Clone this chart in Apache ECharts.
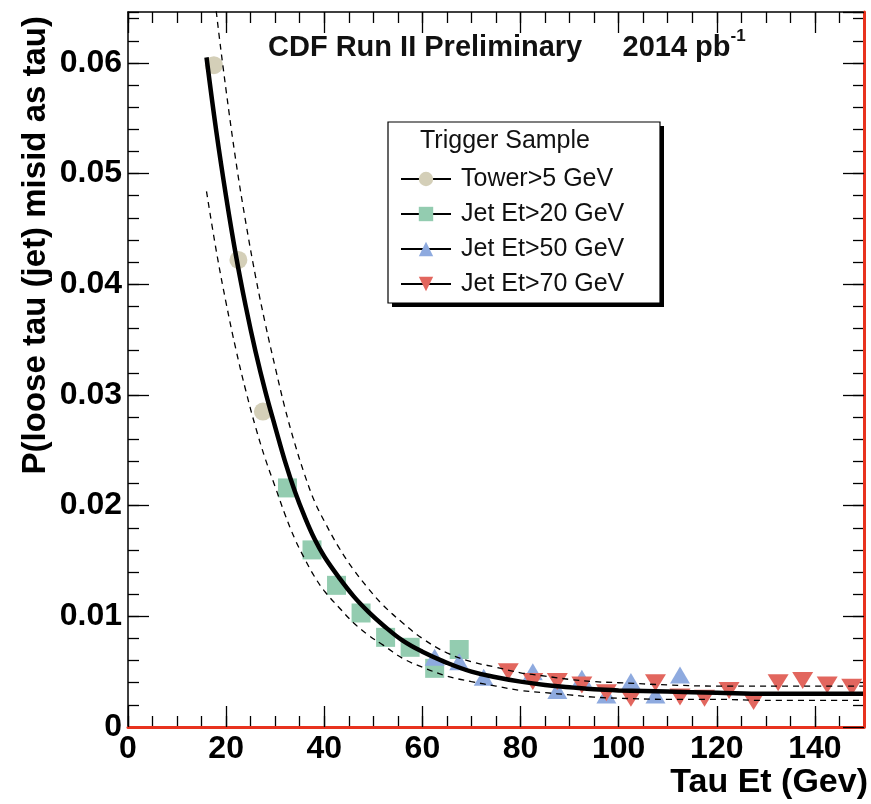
<!DOCTYPE html>
<html><head><meta charset="utf-8">
<script src="https://cdn.jsdelivr.net/npm/echarts@6/dist/echarts.min.js"></script>
<style>html,body{margin:0;padding:0;background:#fff}#chart{width:871px;height:804px}</style>
</head><body><div id="chart"></div>
<script>
// ---- data ----
const towerX = [17.5, 22.5, 27.5];
const towerY = [0.0598, 0.0422, 0.0285];
const jet20X = [32.5, 37.5, 42.5, 47.5, 52.5, 57.5, 62.5, 67.5];
const jet20Y = [0.0216, 0.0160, 0.0128, 0.0103, 0.0081, 0.0072, 0.0053, 0.0070];
const jet50X = [62.5, 67.5, 72.5, 82.5, 87.5, 92.5, 97.5, 102.5, 107.5, 112.5];
const jet50Y = [0.0063, 0.0059, 0.0045, 0.0050, 0.0033, 0.0044, 0.0029, 0.0041, 0.0029, 0.0047];
const jet70X = [77.5, 82.5, 87.5, 92.5, 97.5, 102.5, 107.5, 112.5, 117.5, 122.5, 127.5, 132.5, 137.5, 142.5, 147.5];
const jet70Y = [0.0050, 0.0041, 0.0041, 0.0038, 0.0031, 0.0026, 0.0040, 0.0027, 0.0026, 0.0033, 0.0023, 0.0040, 0.0042, 0.0038, 0.0036];

// fit curve and its dashed uncertainty band
const curveX = [16, 18, 20, 22, 24, 26, 28, 30, 32, 34, 36, 38, 40, 43, 46, 49, 52, 56, 60, 65, 70, 75, 80, 85, 90, 95, 100, 110, 120, 130, 150];
const fitY   = [0.0605, 0.0538, 0.0479, 0.0426, 0.0380, 0.0339, 0.0303, 0.0271, 0.0240, 0.0213, 0.0190, 0.0170, 0.0154, 0.0135, 0.0118, 0.0104, 0.0092, 0.0078, 0.0068, 0.0058, 0.0050, 0.0045, 0.0041, 0.0038, 0.0036, 0.0034, 0.0033, 0.0032, 0.0031, 0.0030, 0.0030];
const upperY = [0.0726, 0.0646, 0.0575, 0.0511, 0.0456, 0.0407, 0.0364, 0.0325, 0.0288, 0.0256, 0.0228, 0.0204, 0.0186, 0.0162, 0.0142, 0.0125, 0.0110, 0.0094, 0.0080, 0.0067, 0.0059, 0.0054, 0.0049, 0.0046, 0.0043, 0.0041, 0.0040, 0.0038, 0.0037, 0.0037, 0.0037];
const lowerY = [0.0484, 0.0430, 0.0383, 0.0341, 0.0304, 0.0271, 0.0242, 0.0217, 0.0192, 0.0170, 0.0152, 0.0136, 0.0123, 0.0108, 0.0094, 0.0083, 0.0074, 0.0062, 0.0054, 0.0046, 0.0041, 0.0037, 0.0033, 0.0031, 0.0029, 0.0027, 0.0026, 0.0025, 0.0025, 0.0024, 0.0024];

const xTickLabels = ['0', '20', '40', '60', '80', '100', '120', '140'];
const yTickLabels = ['0', '0.01', '0.02', '0.03', '0.04', '0.05', '0.06'];

const FONT = 'Liberation Sans, Arial, Helvetica, sans-serif';
const pairs = (xs, ys) => xs.map((x, i) => [x, ys[i]]);
const RED = '#e8321e';

function xAx(pos, interval, len, opts) {
  return Object.assign({
    type: 'value', position: pos, min: 0, max: 150, interval: interval, z: 1,
    axisLine: { show: false, onZero: false }, splitLine: { show: false },
    axisTick: { show: true, inside: true, length: len, lineStyle: { color: '#000', width: 1.3 } },
    axisLabel: { show: false }
  }, opts || {});
}
function yAx(pos, interval, len, opts) {
  return Object.assign({
    type: 'value', position: pos, min: 0, max: 0.0646, interval: interval, z: 1,
    axisLine: { show: false, onZero: false }, splitLine: { show: false },
    axisTick: { show: true, inside: true, length: len, lineStyle: { color: '#000', width: 1.3 } },
    axisLabel: { show: false }
  }, opts || {});
}

const chart = echarts.init(document.getElementById('chart'), null, { renderer: 'canvas' });
const markerBase = { type: 'line', xAxisIndex: 0, yAxisIndex: 0, showSymbol: true, lineStyle: { opacity: 0, width: 0 }, z: 2, silent: true };
const option = {
  animation: false,
  backgroundColor: '#fff',
  grid: { left: 128, right: 5, top: 12, bottom: 77, containLabel: false },
  title: {
    text: '{m|CDF Run II Preliminary     2014 pb}{s|-1}',
    left: 263, top: 23,
    textStyle: {
      rich: {
        m: { fontSize: 29, fontWeight: 'bold', fontFamily: FONT, color: '#111', lineHeight: 34, verticalAlign: 'bottom' },
        s: { fontSize: 17, fontWeight: 'bold', fontFamily: FONT, color: '#111', lineHeight: 34, verticalAlign: 'top' }
      }
    }
  },
  xAxis: [
    xAx('bottom', 20, 21, {
      z: 8,
      axisLine: { show: true, onZero: false, lineStyle: { color: RED, width: 3 } },
      axisLabel: { show: true, showMaxLabel: false, margin: 6, fontSize: 32, fontWeight: 'bold', fontFamily: FONT, color: '#000',
        formatter: v => xTickLabels[Math.round(v / 20)] || '' },
      name: 'Tau Et (Gev)', nameLocation: 'end', nameGap: 4,
      nameTextStyle: { fontSize: 34, fontWeight: 'bold', fontFamily: FONT, color: '#000', align: 'right', verticalAlign: 'top', padding: [39, 0, 0, 0] }
    }),
    xAx('bottom', 5, 11),
    xAx('top', 20, 21, { axisLine: { show: true, onZero: false, lineStyle: { color: '#000', width: 1.5 } } }),
    xAx('top', 5, 11)
  ],
  yAxis: [
    yAx('left', 0.01, 21, {
      axisLine: { show: true, onZero: false, lineStyle: { color: '#000', width: 1.5 } },
      axisLabel: { show: true, showMaxLabel: false, margin: 6, fontSize: 32, fontWeight: 'bold', fontFamily: FONT, color: '#000',
        formatter: v => yTickLabels[Math.round(v / 0.01)] || '' },
      name: 'P(loose tau (jet) misid as tau)', nameLocation: 'end', nameGap: -4, nameRotate: 90,
      nameTextStyle: { fontSize: 33, fontWeight: 'bold', fontFamily: FONT, color: '#000', align: 'right', verticalAlign: 'bottom', padding: [0, 0, 76, 0] }
    }),
    yAx('left', 0.002, 11),
    yAx('right', 0.01, 21, { z: 8, axisLine: { show: true, onZero: false, lineStyle: { color: RED, width: 3 } } }),
    yAx('right', 0.002, 11)
  ],
  legend: {
    orient: 'vertical', left: 388, top: 124, z: 10,
    padding: [42, 30, 8, 12],
    itemWidth: 50, itemHeight: 18, itemGap: 9,
    backgroundColor: 'transparent', borderWidth: 0,
    lineStyle: { color: '#000', width: 2, opacity: 1, type: 'solid' },
    textStyle: { fontSize: 25, fontFamily: FONT, color: '#111', lineHeight: 26, padding: [0, 0, 0, 5] },
    data: ['Tower>5 GeV', 'Jet Et>20 GeV', 'Jet Et>50 GeV', 'Jet Et>70 GeV']
  },
  graphic: [
    { type: 'rect', z: 1, shape: { x: 392, y: 126, width: 272, height: 181 }, style: { fill: '#000' } },
    { type: 'rect', z: 2, shape: { x: 388, y: 122, width: 272, height: 181 }, style: { fill: '#fff', stroke: '#000', lineWidth: 1.2 } },
    { type: 'text', left: 420, top: 129, z: 11,
      style: { text: 'Trigger Sample', font: '25px ' + FONT, fill: '#111' } }
  ],
  series: [
    Object.assign({}, markerBase, { name: 'Tower>5 GeV', data: pairs(towerX, towerY), symbol: 'circle', symbolSize: 18,
      itemStyle: { color: '#d4cfb8' } }),
    Object.assign({}, markerBase, { name: 'Jet Et>20 GeV', data: pairs(jet20X, jet20Y), symbol: 'rect', symbolSize: 19,
      itemStyle: { color: '#93ccb0' } }),
    Object.assign({}, markerBase, { name: 'Jet Et>50 GeV', data: pairs(jet50X, jet50Y), symbol: 'triangle', symbolSize: [20, 17],
      itemStyle: { color: '#8eaadf' } }),
    Object.assign({}, markerBase, { name: 'Jet Et>70 GeV', data: pairs(jet70X, jet70Y), symbol: 'triangle', symbolSize: [21, 17], symbolRotate: 180,
      itemStyle: { color: '#e2665e' } }),
    { name: 'fit', type: 'line', xAxisIndex: 0, yAxisIndex: 0, data: pairs(curveX, fitY), smooth: 0.4, symbol: 'none',
      lineStyle: { color: '#000', width: 4.5 }, z: 5, silent: true, clip: true },
    { name: 'upper', type: 'line', xAxisIndex: 0, yAxisIndex: 0, data: pairs(curveX, upperY), smooth: 0.4, symbol: 'none',
      lineStyle: { color: '#000', width: 1.3, type: [6, 5] }, z: 4, silent: true, clip: true },
    { name: 'lower', type: 'line', xAxisIndex: 0, yAxisIndex: 0, data: pairs(curveX, lowerY), smooth: 0.4, symbol: 'none',
      lineStyle: { color: '#000', width: 1.3, type: [6, 5] }, z: 4, silent: true, clip: true }
  ]
};
chart.setOption(option);
</script>
</body></html>
